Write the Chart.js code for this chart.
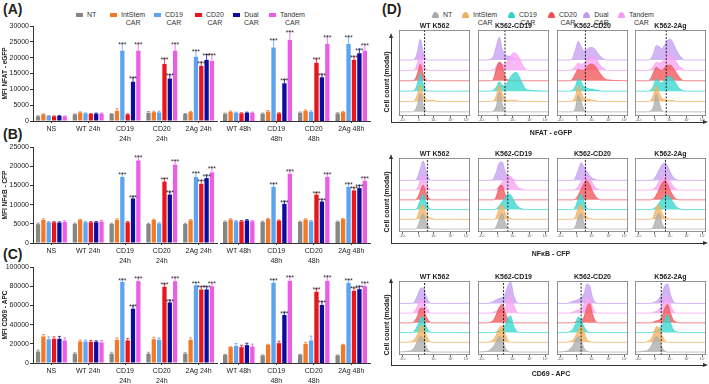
<!DOCTYPE html>
<html>
<head>
<meta charset="utf-8">
<title>CAR reporter activation</title>
<script src="https://cdn.jsdelivr.net/npm/chart.js@4.4.1/dist/chart.umd.min.js"></script>
<style>
  body { margin: 0; background: #fff; }
  #fig { position: relative; width: 709px; height: 384px; overflow: hidden; font-family: "Liberation Sans", Arial, sans-serif; color: #222; }
  #fig canvas { position: absolute; }
  .txt { position: absolute; white-space: nowrap; transform: translate(-50%, -50%); line-height: 1; }
  .panel { font-size: 14px; font-weight: bold; transform: none; }
  .bold7 { font-size: 7px; font-weight: bold; }
  .leg { position: absolute; display: flex; align-items: flex-start; font-size: 7px; line-height: 7.5px; color: #333; }
  .leg i { display: block; width: 7px; height: 4px; margin: 2px 4px 0 0; }
  .leg.hill i { height: 6px; margin-top: 1px; border-radius: 50% 50% 0 0 / 100% 100% 0 0; }
  .leg span { text-align: center; }
  .ln { position: absolute; background: #333; }
  .tri { position: absolute; width: 0; height: 0; }
</style>
</head>
<body>
<div id="fig"></div>
<script>
// ---- bar charts (A-C) ----
// group order: NS, WT 24h, CD19 24h, CD20 24h, 2Ag 24h | WT 48h, CD19 48h, CD20 48h, 2Ag 48h
const seriesNames = ['NT', 'IntStem CAR', 'CD19 CAR', 'CD20 CAR', 'Dual CAR', 'Tandem CAR'];
const barColors = ['#868686', '#f07a2a', '#5ba4f0', '#e8161c', '#0c0c9c', '#ec5de6'];
const groups24 = ['NS', 'WT 24h', ['CD19', '24h'], ['CD20', '24h'], '2Ag 24h'];
const groups48 = ['WT 48h', ['CD19', '48h'], ['CD20', '48h'], '2Ag 48h'];

// rows follow seriesNames
const nfatMean = [
  [1500, 2100, 2200, 2600, 2200, 2300, 2300, 2600, 2400],
  [2100, 2700, 3200, 2800, 2800, 2900, 3000, 3200, 2800],
  [1600, 2400, 22200, 2700, 20300, 2600, 23200, 2900, 24300],
  [1500, 2200, 2100, 18000, 17400, 2400, 2400, 18400, 19300],
  [1600, 2300, 12400, 13400, 19300, 2600, 11900, 13800, 21400],
  [1500, 2300, 22200, 22200, 19000, 2600, 25600, 24300, 22200]
];
const nfatSem = [
  [150, 150, 150, 400, 150, 200, 200, 250, 200],
  [150, 200, 700, 300, 250, 250, 300, 300, 250],
  [100, 150, 2300, 400, 1900, 200, 2500, 300, 2500],
  [100, 150, 150, 1700, 1200, 200, 200, 1200, 1000],
  [150, 200, 1300, 1200, 1700, 200, 1200, 1000, 1300],
  [100, 200, 2300, 2300, 2000, 200, 2700, 2500, 2000]
];
const nfkbMean = [
  [4900, 5000, 4950, 4950, 4950, 5500, 5500, 5500, 5500],
  [6000, 6000, 6000, 6000, 5900, 6100, 6250, 6100, 6200],
  [5400, 5400, 17200, 5100, 17200, 5650, 14600, 5650, 14600],
  [5400, 5400, 5400, 16000, 15400, 5650, 5800, 12600, 13700],
  [5300, 5400, 11600, 12600, 16900, 5900, 10200, 10800, 14300],
  [5500, 5600, 21500, 20400, 18400, 5650, 18000, 17200, 16200]
];
const nfkbSem = [
  [300, 200, 200, 200, 200, 200, 200, 200, 200],
  [300, 200, 300, 200, 200, 200, 200, 200, 200],
  [200, 200, 900, 200, 1200, 200, 900, 200, 1000],
  [200, 200, 200, 800, 900, 200, 200, 600, 700],
  [200, 200, 600, 700, 800, 200, 700, 600, 700],
  [300, 300, 1100, 1100, 1300, 200, 1000, 900, 900]
];
const cd69Mean = [
  [12000, 9700, 9700, 9700, 9700, 8600, 7900, 8600, 7900],
  [27600, 22400, 24100, 24800, 24100, 16500, 19000, 20000, 19000],
  [24800, 22400, 84500, 24100, 81000, 17900, 83500, 23500, 83500],
  [25200, 22100, 23500, 79400, 76600, 16500, 20700, 74200, 75200],
  [25200, 22100, 56600, 63100, 76600, 18600, 50000, 60400, 76900],
  [23500, 21400, 85200, 85200, 80000, 17200, 85600, 85600, 80000]
];
const cd69Sem = [
  [1500, 1000, 1500, 1500, 1000, 500, 500, 500, 500],
  [2000, 1500, 2000, 2000, 2000, 500, 500, 1500, 500],
  [2500, 1500, 3000, 2000, 3000, 2500, 3500, 4500, 3500],
  [2000, 1500, 2000, 3000, 3000, 2000, 2000, 3000, 3000],
  [2500, 1000, 3000, 2500, 3000, 2000, 3000, 3500, 3000],
  [2500, 2000, 4000, 4000, 3500, 2500, 4500, 5000, 3500]
];
// *** marks (same in all three panels)
const starFlags = [
  [0, 0, 0, 0, 0, 0, 0, 0, 0],
  [0, 0, 0, 0, 0, 0, 0, 0, 0],
  [0, 0, 1, 0, 1, 0, 1, 0, 1],
  [0, 0, 0, 1, 1, 0, 0, 1, 1],
  [0, 0, 1, 1, 1, 0, 1, 1, 1],
  [0, 0, 1, 1, 1, 0, 1, 1, 1]
];

// ---- flow histograms (D) ----
// one row per series in seriesNames order, heights on the histX grid (10 = ridge spacing)
const histX = [14, 18, 22, 26, 30, 34, 38, 42, 46, 50, 54, 58, 62, 66, 70];
const histTicks = [5, 28, 49, 73, 95];
const histTickLabels = ['-10³', '0', '10³', '10⁴', '10⁵'];
const targetNames = ['WT K562', 'K562-CD19', 'K562-CD20', 'K562-2Ag'];

const nfatWT = [
  [0, 0, 1, 7, 18, 7, 1, 0, 0, 0, 0, 0, 0, 0, 0],
  [0, 0, 1, 7, 16, 7, 2, 1, 1, 1, 0, 0, 0, 0, 0],
  [0, 0, 1, 7, 17, 7, 1, 0, 0, 0, 0, 0, 0, 0, 0],
  [0, 0, 1, 7, 16, 7, 1, 0, 0, 0, 0, 0, 0, 0, 0],
  [0, 0, 1, 8, 20, 8, 1, 0, 0, 0, 0, 0, 0, 0, 0],
  [0, 0, 1, 7, 17, 7, 1, 0, 0, 0, 0, 0, 0, 0, 0]
];
const nfatCD19 = [
  [0, 0, 1, 6, 19, 8, 1, 0, 0, 0, 0, 0, 0, 0, 0],
  [0, 0, 1, 6, 16, 8, 2, 1, 1, 1, 1, 0, 0, 0, 0],
  [0, 0, 1, 4, 9, 6, 5, 9, 14, 17, 18, 14, 8, 3, 1],
  [0, 0, 2, 12, 18, 15, 4, 1, 0, 0, 0, 0, 0, 0, 0],
  [0, 1, 4, 14, 22, 11, 5, 4, 3, 2, 1, 0, 0, 0, 0],
  [0, 0, 1, 4, 8, 6, 6, 10, 14, 17, 16, 12, 6, 2, 0]
];
const nfatCD20 = [
  [0, 0, 0, 4, 16, 10, 2, 0, 0, 0, 0, 0, 0, 0, 0],
  [0, 0, 1, 5, 15, 9, 3, 2, 2, 1, 1, 0, 0, 0, 0],
  [0, 0, 1, 5, 12, 9, 4, 3, 2, 2, 1, 1, 0, 0, 0],
  [0, 0, 2, 7, 11, 10, 10, 13, 16, 16, 14, 10, 6, 3, 1],
  [0, 0, 2, 10, 18, 13, 9, 10, 12, 12, 10, 6, 3, 1, 0],
  [0, 0, 1, 4, 7, 6, 7, 10, 13, 14, 12, 8, 4, 2, 0]
];
const nfatTwoAg = [
  [0, 0, 1, 5, 17, 9, 1, 0, 0, 0, 0, 0, 0, 0, 0],
  [0, 0, 1, 6, 15, 8, 3, 2, 1, 1, 1, 0, 0, 0, 0],
  [0, 0, 1, 5, 12, 9, 8, 11, 14, 14, 11, 7, 3, 1, 0],
  [0, 0, 2, 8, 13, 11, 10, 13, 15, 15, 12, 8, 4, 1, 0],
  [0, 0, 1, 6, 14, 13, 11, 15, 19, 20, 16, 10, 5, 2, 0],
  [0, 0, 1, 4, 8, 7, 8, 11, 14, 15, 12, 8, 4, 2, 0]
];
const nfkbWT = [
  [0, 0, 0, 2, 10, 16, 8, 2, 0, 0, 0, 0, 0, 0, 0],
  [0, 0, 0, 3, 12, 15, 7, 2, 1, 0, 0, 0, 0, 0, 0],
  [0, 0, 0, 2, 10, 16, 8, 2, 0, 0, 0, 0, 0, 0, 0],
  [0, 0, 0, 2, 9, 15, 8, 2, 0, 0, 0, 0, 0, 0, 0],
  [0, 0, 0, 3, 12, 20, 10, 2, 0, 0, 0, 0, 0, 0, 0],
  [0, 0, 0, 2, 10, 16, 8, 2, 0, 0, 0, 0, 0, 0, 0]
];
const nfkbCD19 = [
  [0, 0, 0, 3, 11, 16, 7, 1, 0, 0, 0, 0, 0, 0, 0],
  [0, 0, 0, 3, 12, 15, 7, 2, 1, 0, 0, 0, 0, 0, 0],
  [0, 0, 0, 1, 4, 8, 12, 16, 15, 10, 5, 2, 1, 0, 0],
  [0, 0, 0, 4, 14, 15, 6, 1, 0, 0, 0, 0, 0, 0, 0],
  [0, 0, 2, 9, 18, 19, 10, 4, 2, 1, 0, 0, 0, 0, 0],
  [0, 0, 0, 1, 4, 8, 12, 15, 14, 10, 5, 2, 1, 0, 0]
];
const nfkbCD20 = [
  [0, 0, 0, 3, 12, 16, 6, 1, 0, 0, 0, 0, 0, 0, 0],
  [0, 0, 0, 3, 12, 15, 7, 2, 1, 0, 0, 0, 0, 0, 0],
  [0, 0, 0, 3, 11, 16, 8, 2, 0, 0, 0, 0, 0, 0, 0],
  [0, 0, 0, 1, 5, 11, 17, 20, 16, 9, 4, 1, 0, 0, 0],
  [0, 0, 0, 3, 11, 18, 14, 9, 5, 2, 1, 0, 0, 0, 0],
  [0, 0, 0, 1, 4, 9, 13, 15, 12, 7, 3, 1, 0, 0, 0]
];
const nfkbTwoAg = [
  [0, 0, 0, 3, 12, 16, 6, 1, 0, 0, 0, 0, 0, 0, 0],
  [0, 0, 0, 3, 12, 15, 7, 2, 1, 0, 0, 0, 0, 0, 0],
  [0, 0, 0, 1, 3, 7, 11, 14, 15, 12, 7, 3, 1, 0, 0],
  [0, 0, 0, 1, 5, 11, 17, 20, 16, 9, 4, 1, 0, 0, 0],
  [0, 0, 0, 1, 5, 11, 16, 18, 14, 8, 3, 1, 0, 0, 0],
  [0, 0, 0, 1, 4, 9, 13, 15, 13, 8, 4, 1, 0, 0, 0]
];
const cd69WT = [
  [1, 2, 5, 11, 16, 14, 6, 1, 0, 0, 0, 0, 0, 0, 0],
  [0, 1, 3, 8, 16, 17, 8, 2, 0, 0, 0, 0, 0, 0, 0],
  [0, 0, 2, 7, 15, 16, 7, 2, 0, 0, 0, 0, 0, 0, 0],
  [0, 0, 2, 7, 15, 15, 7, 2, 0, 0, 0, 0, 0, 0, 0],
  [0, 0, 2, 8, 15, 16, 8, 2, 0, 0, 0, 0, 0, 0, 0],
  [0, 0, 2, 7, 14, 14, 7, 2, 0, 0, 0, 0, 0, 0, 0]
];
const cd69CD19 = [
  [1, 3, 6, 11, 16, 13, 5, 1, 0, 0, 0, 0, 0, 0, 0],
  [0, 1, 3, 8, 15, 17, 9, 2, 0, 0, 0, 0, 0, 0, 0],
  [0, 0, 0, 1, 2, 4, 7, 15, 17, 7, 2, 0, 0, 0, 0],
  [0, 1, 3, 9, 16, 19, 11, 4, 1, 0, 0, 0, 0, 0, 0],
  [0, 1, 2, 4, 5, 6, 9, 18, 22, 9, 2, 0, 0, 0, 0],
  [0, 0, 1, 2, 3, 4, 6, 12, 17, 9, 2, 0, 0, 0, 0]
];
const cd69CD20 = [
  [1, 3, 6, 12, 16, 12, 4, 1, 0, 0, 0, 0, 0, 0, 0],
  [0, 1, 2, 6, 13, 17, 11, 3, 1, 0, 0, 0, 0, 0, 0],
  [0, 1, 3, 9, 16, 13, 6, 2, 0, 0, 0, 0, 0, 0, 0],
  [0, 0, 0, 1, 2, 3, 6, 16, 20, 9, 2, 0, 0, 0, 0],
  [0, 1, 2, 3, 4, 6, 10, 20, 18, 6, 1, 0, 0, 0, 0],
  [0, 0, 1, 2, 3, 5, 9, 16, 15, 6, 1, 0, 0, 0, 0]
];
const cd69TwoAg = [
  [1, 2, 5, 11, 16, 13, 5, 1, 0, 0, 0, 0, 0, 0, 0],
  [0, 1, 3, 8, 16, 15, 7, 2, 0, 0, 0, 0, 0, 0, 0],
  [0, 0, 0, 1, 2, 4, 7, 14, 18, 10, 3, 1, 0, 0, 0],
  [0, 0, 0, 1, 2, 3, 6, 15, 19, 10, 3, 1, 0, 0, 0],
  [0, 0, 0, 1, 2, 5, 10, 18, 20, 9, 2, 0, 0, 0, 0],
  [0, 0, 0, 1, 2, 4, 8, 15, 17, 8, 2, 0, 0, 0, 0]
];
const nfatGate = [36, 38, 40, 44];
const nfkbGate = [40, 42, 40, 43];
const cd69Gate = [36, 36, 34, 37];

// ridge colours in seriesNames order, stacked bottom->top as ridgeOrder
const ridgeLine = ['#a8a8a8', '#efad5e', '#2fd3cb', '#ee5257', '#c09af0', '#f49cee'];
const ridgeFill = ['rgba(175,175,175,0.8)', 'rgba(243,180,100,0.8)', 'rgba(60,216,208,0.8)',
  'rgba(242,90,94,0.8)', 'rgba(200,162,243,0.8)', 'rgba(247,166,241,0.8)'];
const ridgeOrder = [0, 1, 2, 3, 5, 4];

Chart.defaults.font.family = '"Liberation Sans", Arial, sans-serif';
Chart.defaults.color = '#222';

const fig = document.getElementById('fig');

function addCanvas(left, top, w, h) {
  const c = document.createElement('canvas');
  c.width = w;
  c.height = h;
  c.style.left = left + 'px';
  c.style.top = top + 'px';
  c.style.width = w + 'px';
  c.style.height = h + 'px';
  fig.appendChild(c);
  return c;
}

function addText(html, x, y, cls, rot) {
  const d = document.createElement('div');
  d.className = 'txt ' + (cls || '');
  d.innerHTML = html;
  d.style.left = x + 'px';
  d.style.top = y + 'px';
  if (rot) d.style.transform = 'translate(-50%, -50%) rotate(-90deg)';
  fig.appendChild(d);
  return d;
}

function addBox(cls, css) {
  const d = document.createElement('div');
  d.className = cls;
  Object.assign(d.style, css);
  fig.appendChild(d);
  return d;
}

// error bars and significance stars
const errorBars = {
  id: 'errorBars',
  afterDatasetsDraw(chart) {
    const ctx = chart.ctx;
    const y = chart.scales.y;
    chart.data.datasets.forEach((ds, i) => {
      chart.getDatasetMeta(i).data.forEach((bar, j) => {
        const top = y.getPixelForValue(ds.data[j] + ds.errors[j]);
        const cap = bar.width * 0.35;
        ctx.save();
        ctx.strokeStyle = ds.backgroundColor;
        ctx.lineWidth = 0.8;
        ctx.beginPath();
        ctx.moveTo(bar.x, bar.y);
        ctx.lineTo(bar.x, top);
        ctx.moveTo(bar.x - cap, top);
        ctx.lineTo(bar.x + cap, top);
        ctx.stroke();
        if (ds.stars[j]) {
          ctx.fillStyle = '#333';
          ctx.font = '7px "Liberation Sans", Arial, sans-serif';
          ctx.textAlign = 'center';
          ctx.textBaseline = 'alphabetic';
          ctx.fillText('***', bar.x, top + 3.5);
        }
        ctx.restore();
      });
    });
  }
};

function barChart(canvas, labels, from, to, mean, sem, yMax, yStep, yTitle, showY, pad) {
  const datasets = seriesNames.map((name, s) => ({
    label: name,
    data: mean[s].slice(from, to),
    errors: sem[s].slice(from, to),
    stars: starFlags[s].slice(from, to),
    backgroundColor: barColors[s],
    categoryPercentage: 0.87,
    barPercentage: 0.8
  }));
  return new Chart(canvas, {
    type: 'bar',
    data: { labels, datasets },
    options: {
      responsive: false,
      animation: false,
      layout: { padding: pad },
      plugins: { legend: { display: false }, tooltip: { enabled: false } },
      scales: {
        x: {
          grid: { display: true, drawOnChartArea: false, offset: false, tickLength: 2, color: '#333' },
          border: { color: '#333', width: 1 },
          ticks: { font: { size: 7, lineHeight: 1.4 }, padding: 1, maxRotation: 0, autoSkip: false, color: '#222' },
          afterFit: s => { s.height = 24; }
        },
        y: {
          display: showY,
          min: 0,
          max: yMax,
          grid: { display: true, drawOnChartArea: false, tickLength: 3, color: '#333' },
          border: { color: '#333', width: 1 },
          ticks: { stepSize: yStep, font: { size: 7 }, padding: 1, color: '#222', callback: v => String(v) },
          title: { display: true, text: yTitle, font: { size: 6.5, weight: 'bold' }, padding: { top: 1, bottom: 0 } },
          afterFit: s => { if (showY) s.width = 33; }
        }
      }
    },
    plugins: [errorBars]
  });
}

const frame = {
  id: 'frame',
  afterDraw(chart) {
    const a = chart.chartArea;
    const ctx = chart.ctx;
    ctx.save();
    ctx.strokeStyle = '#7a7a7a';
    ctx.lineWidth = 0.8;
    ctx.strokeRect(a.left + 0.4, a.top + 0.4, a.width - 0.8, a.height - 0.8);
    ctx.restore();
  }
};

function histChart(canvas, curves, gate, yMin, yMax) {
  const datasets = [{
    data: [{ x: gate, y: yMin }, { x: gate, y: yMax }],
    borderColor: '#111',
    borderWidth: 0.9,
    borderDash: [2, 1.5],
    pointRadius: 0,
    fill: false
  }];
  ridgeOrder.forEach((s, level) => {
    const base = level * 10;
    const pts = [{ x: 0, y: base }];
    histX.forEach((x, i) => pts.push({ x, y: base + curves[s][i] }));
    pts.push({ x: 100, y: base });
    datasets.push({
      data: pts,
      borderColor: ridgeLine[s],
      backgroundColor: ridgeFill[s],
      borderWidth: 0.7,
      pointRadius: 0,
      cubicInterpolationMode: 'monotone',
      fill: { value: base }
    });
  });
  return new Chart(canvas, {
    type: 'line',
    data: { datasets },
    options: {
      responsive: false,
      animation: false,
      layout: { padding: { left: 1, right: 1, top: 1, bottom: 0 } },
      plugins: { legend: { display: false }, tooltip: { enabled: false } },
      scales: {
        x: {
          type: 'linear',
          min: 0,
          max: 100,
          grid: { display: true, drawOnChartArea: false, tickLength: 2, color: '#666' },
          border: { display: false },
          afterBuildTicks: s => { s.ticks = histTicks.map(v => ({ value: v })); },
          ticks: { font: { size: 3.5 }, padding: 0, color: '#555', maxRotation: 0, autoSkip: false,
            callback: (v, i) => histTickLabels[i] },
          afterFit: s => { s.height = 9; }
        },
        y: { display: false, min: yMin, max: yMax }
      }
    },
    plugins: [frame]
  });
}

// panel letters
addText('(A)', 3, 2, 'panel');
addText('(B)', 3, 127, 'panel');
addText('(C)', 3, 247, 'panel');
addText('(D)', 382, 2, 'panel');

// legend for A-C
const legendLeftBars = [76, 110, 154, 195, 233, 269];
seriesNames.forEach((name, s) => {
  const d = addBox('leg', { left: legendLeftBars[s] + 'px', top: '11px' });
  d.innerHTML = '<i style="background:' + barColors[s] + '"></i><span>' + name.replace(' ', '<br>') + '</span>';
});

// legend for D
const legendLeftHist = [432, 462, 508, 548, 583, 618];
seriesNames.forEach((name, s) => {
  const d = addBox('leg hill', { left: legendLeftHist[s] + 'px', top: '11px' });
  d.innerHTML = '<i style="background:' + ridgeLine[s] + '"></i><span>' + name.replace(' ', '<br>') + '</span>';
});

// bar panels
const barPanels = [
  { mean: nfatMean, sem: nfatSem, max: 30000, step: 5000, title: 'MFI NFAT - eGFP', top: 26, bottom: 121 },
  { mean: nfkbMean, sem: nfkbSem, max: 25000, step: 5000, title: 'MFI NFκB - CFP', top: 147, bottom: 243 },
  { mean: cd69Mean, sem: cd69Sem, max: 100000, step: 20000, title: 'MFI CD69 - APC', top: 267, bottom: 363 }
];
barPanels.forEach(p => {
  const h = 8 + (p.bottom - p.top) + 24;
  barChart(addCanvas(0, p.top - 8, 224, h), groups24, 0, 5, p.mean, p.sem, p.max, p.step, p.title, true,
    { left: 0, right: 7, top: 8, bottom: 0 });
  barChart(addCanvas(214, p.top - 8, 162, h), groups48, 5, 9, p.mean, p.sem, p.max, p.step, p.title, false,
    { left: 6, right: 6, top: 8, bottom: 0 });
});

// histogram rows
const boxLeft = [399, 478, 557, 635];
const boxWidth = 71;
const histRows = [
  { boxes: [nfatWT, nfatCD19, nfatCD20, nfatTwoAg], gates: nfatGate, top: 30, h: 86, yMin: -4, yMax: 79,
    axisTop: 37, axisBottom: 122, xTitle: 'NFAT - eGFP', xTitleY: 132, yTitleY: 82 },
  { boxes: [nfkbWT, nfkbCD19, nfkbCD20, nfkbTwoAg], gates: nfkbGate, top: 158, h: 74, yMin: -3, yMax: 73,
    axisTop: 158, axisBottom: 243, xTitle: 'NFκB - CFP', xTitleY: 253, yTitleY: 202 },
  { boxes: [cd69WT, cd69CD19, cd69CD20, cd69TwoAg], gates: cd69Gate, top: 281, h: 74, yMin: -3, yMax: 73,
    axisTop: 282, axisBottom: 365, xTitle: 'CD69 - APC', xTitleY: 373, yTitleY: 325 }
];
histRows.forEach(r => {
  r.boxes.forEach((curves, b) => {
    histChart(addCanvas(boxLeft[b] - 1, r.top - 1, boxWidth + 2, r.h + 1 + 9), curves, r.gates[b], r.yMin, r.yMax);
    addText(targetNames[b], boxLeft[b] + boxWidth / 2, r.top - 5, 'bold7');
  });
  // axis arrows
  addBox('ln', { left: '391px', top: r.axisTop + 'px', width: '1px', height: (r.axisBottom - r.axisTop) + 'px' });
  addBox('ln', { left: '391px', top: r.axisBottom + 'px', width: '312px', height: '1px' });
  addBox('tri', { left: '389px', top: (r.axisTop - 4) + 'px', borderLeft: '2.5px solid transparent',
    borderRight: '2.5px solid transparent', borderBottom: '5px solid #333' });
  addBox('tri', { left: '703px', top: (r.axisBottom - 2) + 'px', borderTop: '2.5px solid transparent',
    borderBottom: '2.5px solid transparent', borderLeft: '5px solid #333' });
  addText(r.xTitle, 551, r.xTitleY, 'bold7');
  addText('Cell count (modal)', 386, r.yTitleY, 'bold7', true);
});
</script>
</body>
</html>
